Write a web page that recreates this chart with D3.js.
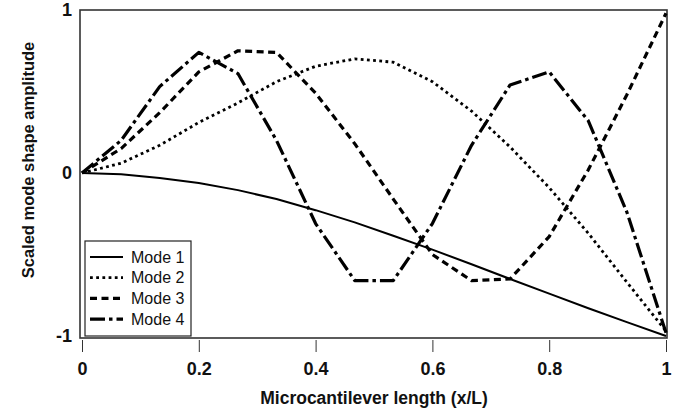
<!DOCTYPE html>
<html>
<head>
<meta charset="utf-8">
<script src="https://cdn.jsdelivr.net/npm/d3@7"></script>
<style>
  html, body { margin: 0; padding: 0; background: #fff; }
  svg { display: block; }
  .tick-label { font-family: 'Liberation Sans', Arial, sans-serif; font-weight: bold; font-size: 18px; fill: #111; }
  .axis-title { font-family: 'Liberation Sans', Arial, sans-serif; font-weight: bold; fill: #111; }
  .legend-label { font-family: 'Liberation Sans', Arial, sans-serif; font-size: 16px; fill: #111; }
</style>
</head>
<body>
<div id="chart"></div>
<script>
// Normalised position along the beam (x/L), sampled every 1/15.
const X_POS = [0, 0.067, 0.133, 0.2, 0.267, 0.333, 0.4, 0.467, 0.533, 0.6, 0.667, 0.733, 0.8, 0.867, 0.933, 1];

// Scaled amplitude per mode at each X_POS.
const MODE_1 = [0, -0.008, -0.03, -0.062, -0.105, -0.16, -0.228, -0.303, -0.385, -0.47, -0.56, -0.65, -0.74, -0.83, -0.915, -1.0];
const MODE_2 = [0, 0.06, 0.17, 0.31, 0.43, 0.56, 0.655, 0.7, 0.68, 0.56, 0.38, 0.16, -0.09, -0.37, -0.67, -0.97];
const MODE_3 = [0, 0.15, 0.37, 0.62, 0.75, 0.74, 0.49, 0.18, -0.16, -0.5, -0.66, -0.65, -0.39, 0.02, 0.48, 0.98];
const MODE_4 = [0, 0.2, 0.53, 0.74, 0.61, 0.2, -0.31, -0.66, -0.66, -0.31, 0.17, 0.54, 0.62, 0.32, -0.24, -0.98];

const SERIES_NAMES = ['Mode 1', 'Mode 2', 'Mode 3', 'Mode 4'];
const X_TICKS = [0, 0.2, 0.4, 0.6, 0.8, 1];
const Y_TICKS = [-1, 0, 1];

// Black-and-white figure: modes are told apart by dash pattern only.
const LINE_STYLES = [
  { dash: null, width: 2 },
  { dash: '2.8,3.4', width: 2.8 },
  { dash: '7,4.5', width: 3.2 },
  { dash: '15,4,3.5,4', width: 3.2 },
];

const W = 678, H = 410;

const svg = d3.select('#chart').append('svg').attr('width', W).attr('height', H);

const x = d3.scaleLinear().domain([0, 1]).range([82, 666]);
const y = d3.scaleLinear().domain([-1, 1]).range([336, 10]);

// Plain hyphen for negatives, as in the original figure (d3 uses U+2212).
const plainFormat = (d) => String(d);

// Plot frame
svg.append('rect')
  .attr('x', 80).attr('y', 10)
  .attr('width', 587).attr('height', 328)
  .attr('fill', 'none')
  .attr('stroke', '#333')
  .attr('stroke-width', 1.6);

// x axis: ticks hang below the frame, labels bold
const xAxis = svg.append('g')
  .attr('transform', 'translate(0,340)')
  .call(d3.axisBottom(x).tickValues(X_TICKS).tickSize(12).tickPadding(10).tickFormat(plainFormat));
xAxis.select('.domain').remove();
xAxis.selectAll('.tick line').attr('stroke', '#333').attr('stroke-width', 1);
xAxis.selectAll('.tick text').attr('class', 'tick-label').attr('font-family', null).attr('font-size', null);

// y axis: labels only, no tick marks
const yAxis = svg.append('g')
  .attr('transform', 'translate(80,0)')
  .call(d3.axisLeft(y).tickValues(Y_TICKS).tickSize(0).tickPadding(8).tickFormat(plainFormat));
yAxis.select('.domain').remove();
yAxis.selectAll('.tick text').attr('class', 'tick-label').attr('font-family', null).attr('font-size', null);

svg.append('text')
  .attr('class', 'axis-title')
  .attr('x', 374).attr('y', 404)
  .attr('text-anchor', 'middle')
  .attr('font-size', 17.5)
  .text('Microcantilever length (x/L)');

svg.append('text')
  .attr('class', 'axis-title')
  .attr('transform', 'translate(34,160) rotate(-90)')
  .attr('text-anchor', 'middle')
  .attr('font-size', 16.5)
  .text('Scaled mode shape amplitude');

const modes = [MODE_1, MODE_2, MODE_3, MODE_4];
const line = d3.line().x((d) => x(d.x)).y((d) => y(d.v));

modes.forEach((vals, i) => {
  const pts = X_POS.map((xv, j) => ({ x: xv, v: vals[j] }));
  svg.append('path')
    .datum(pts)
    .attr('fill', 'none')
    .attr('stroke', '#000')
    .attr('stroke-width', LINE_STYLES[i].width)
    .attr('stroke-dasharray', LINE_STYLES[i].dash)
    .attr('stroke-linejoin', 'round')
    .attr('d', line);
});

// Legend box in the lower-left corner of the plot
const legend = svg.append('g').attr('transform', 'translate(85,241)');
legend.append('rect')
  .attr('width', 106).attr('height', 95)
  .attr('fill', '#fff')
  .attr('stroke', '#222')
  .attr('stroke-width', 1.2);

SERIES_NAMES.forEach((name, i) => {
  const rowY = 16 + i * 20.7;
  legend.append('line')
    .attr('x1', 5).attr('x2', 38)
    .attr('y1', rowY).attr('y2', rowY)
    .attr('stroke', '#000')
    .attr('stroke-width', LINE_STYLES[i].width)
    .attr('stroke-dasharray', LINE_STYLES[i].dash);
  legend.append('text')
    .attr('class', 'legend-label')
    .attr('x', 46).attr('y', rowY)
    .attr('dominant-baseline', 'central')
    .text(name);
});
</script>
</body>
</html>
